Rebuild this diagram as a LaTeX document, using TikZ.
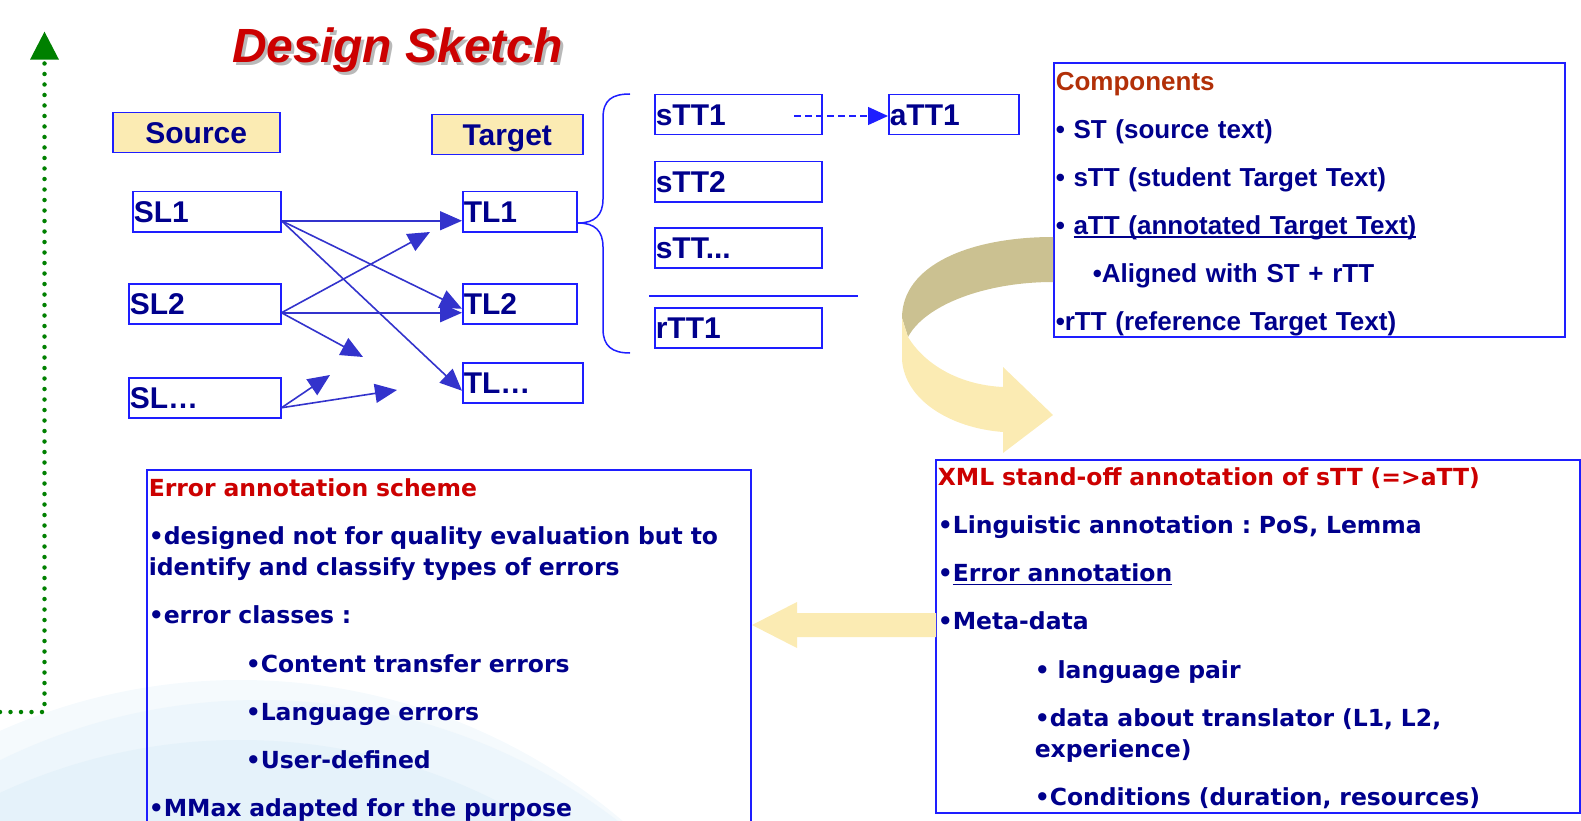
\documentclass[tikz,border=0pt]{standalone}
\usepackage{fontspec}
\setmainfont{Liberation Sans}
\newfontfamily\dsverdfont{DejaVu Sans}
\usepackage{tikz}
\usetikzlibrary{arrows.meta,calc}
\frenchspacing
\definecolor{dsNavy}{RGB}{0, 0, 140}
\definecolor{dsBlue}{RGB}{30, 30, 255}
\definecolor{dsArrow}{RGB}{51, 51, 204}
\definecolor{dsRed}{RGB}{204, 0, 0}
\definecolor{dsRust}{RGB}{178, 48, 8}
\definecolor{dsGreen}{RGB}{0, 128, 0}
\definecolor{dsCream}{RGB}{251, 235, 179}
\definecolor{dsTan}{RGB}{203, 193, 145}
\definecolor{dsShade}{RGB}{185, 185, 185}
\definecolor{dsSkyA}{RGB}{245, 250, 253}
\definecolor{dsSkyB}{RGB}{237, 246, 252}
\definecolor{dsSkyC}{RGB}{229, 242, 250}
\newcommand\dslabelfont{\fontsize{30}{36}\selectfont\bfseries}
\newcommand\dsbodyfont{\fontsize{26}{47.9}\selectfont\bfseries}
\newcommand\dscondfont{\dsverdfont\fontsize{23.5}{31.3}\selectfont\bfseries}
\newcommand\dsdots{...}
\newsavebox\dsulbox
\newcommand\dsul[1]{\sbox\dsulbox{#1}\rlap{\rule[-3.5pt]{\wd\dsulbox}{1.6pt}}#1}

\begin{document}
\begin{tikzpicture}[x=1pt, y=-1pt,
  lblbox/.style={draw=dsBlue, line width=1.5pt, text=dsNavy, anchor=north west,
    inner xsep=1pt, inner ysep=0pt, minimum height=40pt, text height=22pt,
    text depth=0pt, align=left, text width=#1, font=\dslabelfont},
  hdrbox/.style={draw=dsBlue, fill=dsCream, line width=1.5pt, text=dsNavy,
    anchor=north west, inner sep=0pt, minimum width=#1, minimum height=40pt,
    text height=22pt, text depth=0pt, font=\dslabelfont},
  textbox/.style={draw=dsBlue, line width=1.5pt, text=dsNavy, anchor=north west,
    inner xsep=2pt, inner ysep=0pt, align=left},
  link/.style={dsArrow, line width=1.6pt, -{Triangle[length=22pt, width=19pt]}},
  dashlink/.style={dsBlue, line width=1.3pt, dash pattern=on 7pt off 4pt,
    -{Triangle[length=20pt, width=18pt]}},
  brace/.style={dsBlue, line width=1.5pt},
  gdots/.style={dsGreen, line width=4.5pt, line cap=round, dash pattern=on 0pt off 10.5pt,
    -{Triangle[length=28pt, width=29pt, line width=0pt]}}]
\useasboundingbox (0,0) rectangle (1581,821);

% Background swirl
\fill[dsSkyA] (240,1270) circle (590pt);
\fill[dsSkyB] (260,1290) circle (590pt);
\fill[dsSkyC] (240,1310) circle (570pt);

% Title
\node[anchor=base west, inner sep=0pt, text=dsRed,
  font=\fontsize{48}{56}\selectfont\bfseries\itshape] (title) at (232,63)
  {\makebox[0pt][l]{\hspace*{3pt}\raisebox{-3pt}{\color{dsShade}Design Sketch}}Design Sketch};

% Green dotted arrow
\coordinate (gstart) at (0,712);
\coordinate (gcorner) at (44.5,712);
\coordinate (gtop) at (44.5,31.7);
\draw[gdots] (gstart) -- (gcorner) -- (gtop);

% Source / Target
\node[hdrbox=167pt] (source) at (112,112) {Source};
\node[hdrbox=151pt] (target) at (431,114) {Target};

% Text boxes
\foreach \nm/\x/\y/\w/\txt in {sl1/132/191/146pt/SL1, sl2/128/283/150pt/SL2,
    sldots/128/377/150pt/SL…, tl1/462/191/112pt/TL1, tl2/462/283/112pt/TL2,
    tldots/462/362/118pt/TL…, stt1/654/94/165pt/sTT1, att1/888/94/128pt/aTT1,
    stt2/654/161/165pt/sTT2, sttdots/654/227/165pt/sTT\dsdots, rtt1/654/307/165pt/rTT1}
  \node[lblbox=\w] (\nm) at (\x,\y) {\txt};

% Alignment links
\coordinate (sl1out) at ($(sl1.east)+(0,9)$);
\coordinate (sl2out) at ($(sl2.east)+(0,9)$);
\coordinate (slout) at ($(sldots.east)+(0,10)$);
\coordinate (tl1in) at ($(tl1.west)+(0,9)$);
\coordinate (tl2inA) at ($(tl2.west)+(0,5)$);
\coordinate (tl2inB) at ($(tl2.west)+(0,9)$);
\coordinate (tlin) at ($(tldots.west)+(0,8)$);
\coordinate (lsA) at (430,232);
\coordinate (lsB) at (363,357);
\coordinate (lsC) at (330,375);
\coordinate (lsD) at (397,390);
\foreach \a/\b in {sl1out/tl1in, sl1out/tl2inA, sl1out/tlin, sl2out/lsA,
    sl2out/tl2inB, sl2out/lsB, slout/lsC, slout/lsD}
  \draw[link] (\a) -- (\b);

% Brace and separator
\draw[brace] (630,94) .. controls (612,94) and (603,100) .. (603,118) -- (603,199)
  .. controls (603,215) and (595,223) .. (578,223)
  .. controls (595,223) and (603,231) .. (603,247) -- (603,329)
  .. controls (603,346) and (612,353) .. (630,353);
\draw[brace] (649,296) -- (858,296);

% sTT1 -> aTT1
\coordinate (dashfrom) at (794,116);
\draw[dashlink] (dashfrom) -- (dashfrom -| att1.west);

% Components
\node[textbox, text width=507pt, text height=27.5pt, text depth=246pt, font=\dsbodyfont]
  (comp) at (1053,62.5) {{\color{dsRust}Components}\\
  • ST (source text)\\
  • sTT (student Target Text)\\
  • \dsul{aTT (annotated Target Text)}\\
  \hspace*{37pt}•Aligned with ST + rTT\\
  •rTT (reference Target Text)};

% Ribbon arrow
\fill[dsTan] (1053,237) .. controls (970,237) and (902,265) .. (902,318) -- (908,337)
  .. controls (925,305) and (985,282) .. (1053,282) -- cycle;
\fill[dsCream] (902,318) -- (902,360) .. controls (905,400) and (950,428) .. (1003,432)
  -- (1003,453) -- (1053,415) -- (1003,367) -- (1003,387)
  .. controls (960,385) and (925,365) .. (908,337) -- cycle;

% Error annotation scheme
\node[textbox, text width=600pt, text height=26.5pt, text depth=340pt, font=\dscondfont]
  (errbox) at (146,469) {{\color{dsRed}Error annotation scheme}\\[16.9pt]
  •designed not for quality evaluation but to\\
  identify and classify types of errors\\[16.9pt]
  •error classes :\\[16.9pt]
  \hspace*{97pt}•Content transfer errors\\[16.9pt]
  \hspace*{97pt}•Language errors\\[16.9pt]
  \hspace*{97pt}•User-defined\\[16.9pt]
  •MMax adapted for the purpose};

% XML stand-off annotation
\node[textbox, text width=640pt, text height=25.5pt, text depth=327.5pt, font=\dscondfont]
  (xmlbox) at (935,459) {{\color{dsRed}XML stand-off annotation of sTT (=>aTT)}\\[16.9pt]
  •Linguistic annotation : PoS, Lemma\\[16.9pt]
  •\dsul{Error annotation}\\[16.9pt]
  •Meta-data\\[16.9pt]
  \hspace*{97pt}• language pair\\[16.9pt]
  \hspace*{97pt}•data about translator (L1, L2,\\
  \hspace*{97pt}experience)\\[16.9pt]
  \hspace*{97pt}•Conditions (duration, resources)};

% Back arrow
\fill[dsCream] (936,613) -- (797,613) -- (797,602) -- (752,625) -- (797,648)
  -- (797,637) -- (936,637) -- cycle;
\end{tikzpicture}
\end{document}
